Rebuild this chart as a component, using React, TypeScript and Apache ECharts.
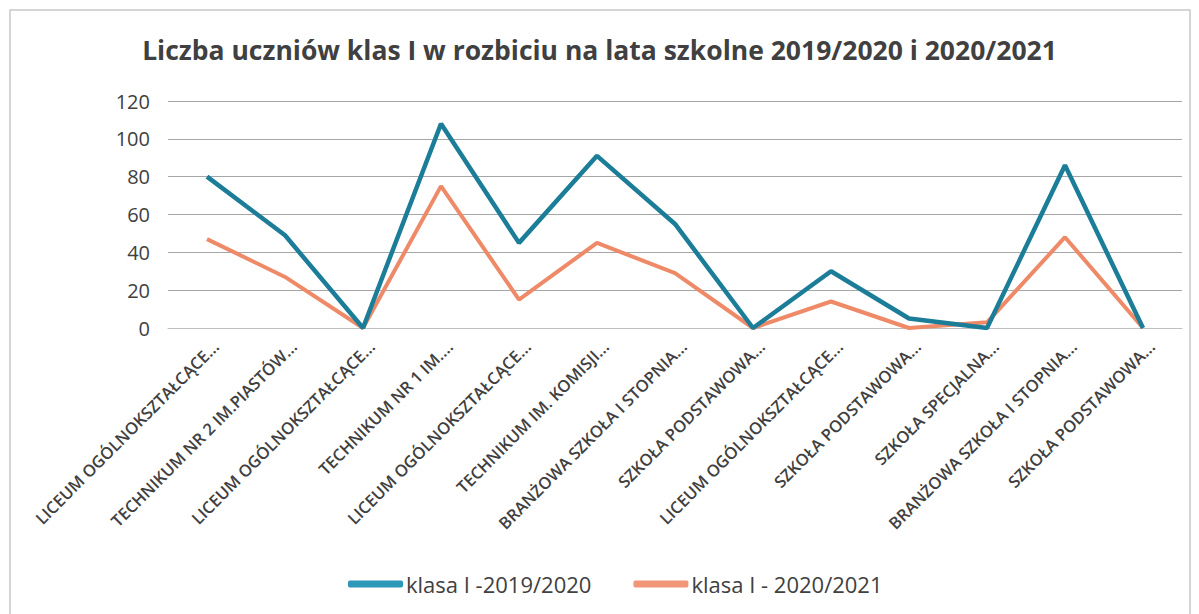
import React, { useEffect, useRef } from "react";
import * as echarts from "echarts";

const categories = [
  "LICEUM OGÓLNOKSZTAŁCĄCE...",
  "TECHNIKUM NR 2 IM.PIASTÓW...",
  "LICEUM OGÓLNOKSZTAŁCĄCE...",
  "TECHNIKUM NR 1 IM....",
  "LICEUM OGÓLNOKSZTAŁCĄCE...",
  "TECHNIKUM IM. KOMISJI...",
  "BRANŻOWA SZKOŁA I STOPNIA...",
  "SZKOŁA PODSTAWOWA...",
  "LICEUM OGÓLNOKSZTAŁCĄCE...",
  "SZKOŁA PODSTAWOWA...",
  "SZKOŁA SPECJALNA...",
  "BRANŻOWA SZKOŁA I STOPNIA...",
  "SZKOŁA PODSTAWOWA...",
];
const klasa2019 = [80, 49, 0, 108, 45, 91, 55, 0, 30, 5, 0, 86, 0];
const klasa2020 = [47, 27, 0, 75, 15, 45, 29, 0, 14, 0, 3, 48, 0];
const yTicks = [0, 20, 40, 60, 80, 100, 120];

const FONT = "'Open Sans', 'Noto Sans', sans-serif";

export default function App() {
  const ref = useRef<HTMLDivElement>(null);
  useEffect(() => {
    if (!ref.current) return;
    const chart = echarts.init(ref.current, undefined, { renderer: "svg" });
    chart.setOption({
      animation: false,
      backgroundColor: "#ffffff",
      textStyle: { fontFamily: FONT },
      title: {
        text: "Liczba uczniów klas I w rozbiciu na lata szkolne 2019/2020 i 2020/2021",
        left: "center",
        top: 23,
        textStyle: { fontFamily: FONT, fontSize: 26.5, fontWeight: "bold", color: "#404040" },
      },
      graphic: [
        {
          type: "rect",
          shape: { x: 2, y: 2, width: 1180, height: 620 },
          style: { fill: "none", stroke: "#c8c8c8", lineWidth: 1.5 },
          silent: true,
        },
      ],
      legend: {
        top: 560,
        left: 335,
        itemWidth: 55,
        itemHeight: 7,
        itemGap: 42,
        icon: "roundRect",
        textStyle: { fontFamily: FONT, fontSize: 22, color: "#404040", padding: [0, 0, 0, -2] },
        data: [
          { name: "klasa I -2019/2020", itemStyle: { color: "#2e98b8" } },
          { name: "klasa I - 2020/2021", itemStyle: { color: "#f2967a" } },
        ],
      },
      grid: { left: 160, right: 9, top: 93, bottom: 286, containLabel: false },
      xAxis: {
        type: "category",
        data: categories,
        boundaryGap: true,
        axisLine: { show: true, lineStyle: { color: "#bfbfbf" } },
        axisTick: { show: false },
        axisLabel: {
          rotate: 45,
          interval: 0,
          margin: 24,
          padding: [0, -12, 0, 0],
          fontFamily: FONT,
          fontSize: 16.5,
          fontWeight: 600,
          color: "#404040",
        },
      },
      yAxis: {
        type: "value",
        min: 0,
        max: 120,
        interval: 20,
        axisLine: { show: false },
        axisTick: { show: false },
        axisLabel: {
          fontFamily: FONT,
          fontSize: 20,
          color: "#404040",
          margin: 18,
          formatter: (v: number) => (yTicks.includes(v) ? String(v) : ""),
        },
        splitLine: { lineStyle: { color: "#a6a6a6", width: 1.2 } },
      },
      series: [
        {
          name: "klasa I -2019/2020",
          type: "line",
          data: klasa2019,
          showSymbol: false,
          symbol: "none",
          lineStyle: { color: "#1b7d98", width: 4.5 },
          itemStyle: { color: "#2e98b8" },
          z: 3,
        },
        {
          name: "klasa I - 2020/2021",
          type: "line",
          data: klasa2020,
          showSymbol: false,
          symbol: "none",
          lineStyle: { color: "#ee8a68", width: 4 },
          itemStyle: { color: "#f2967a" },
          z: 2,
        },
      ],
    });
    return () => chart.dispose();
  }, []);
  return <div ref={ref} style={{ width: 1183, height: 606 }} />;
}
